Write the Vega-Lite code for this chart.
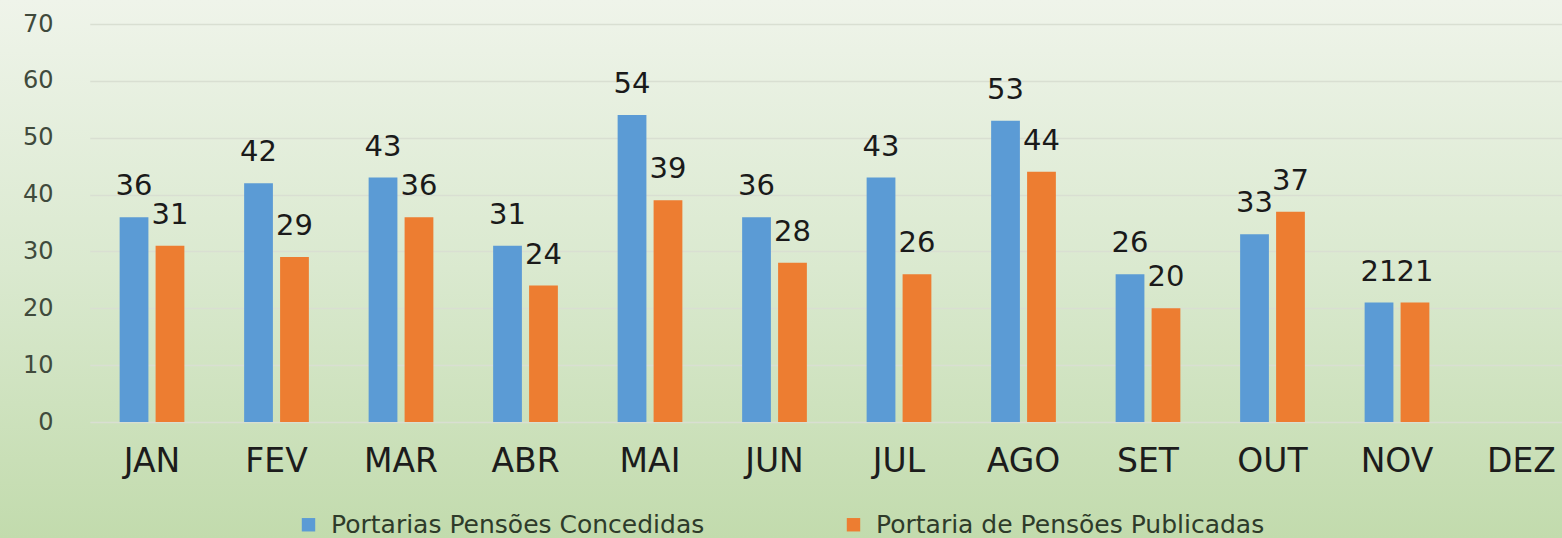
{
  "$schema": "https://vega.github.io/schema/vega-lite/v6.json",
  "width": 1562,
  "height": 538,
  "autosize": {"type": "none"},
  "padding": 0,
  "background": "#D9E8CE",
  "config": {
    "font": "DejaVu Sans",
    "view": {
      "stroke": null,
      "fill": {
        "gradient": "linear",
        "x1": 0, "y1": 0, "x2": 0, "y2": 1,
        "stops": [
          {"offset": 0, "color": "#EFF4EA"},
          {"offset": 0.5, "color": "#DAE9CF"},
          {"offset": 1, "color": "#C2DBAD"}
        ]
      }
    }
  },
  "data": {
    "values": [
      {"mes": "JAN", "serie": "Portarias Pensões Concedidas", "valor": 36},
      {"mes": "JAN", "serie": "Portaria de Pensões Publicadas", "valor": 31},
      {"mes": "FEV", "serie": "Portarias Pensões Concedidas", "valor": 42},
      {"mes": "FEV", "serie": "Portaria de Pensões Publicadas", "valor": 29},
      {"mes": "MAR", "serie": "Portarias Pensões Concedidas", "valor": 43},
      {"mes": "MAR", "serie": "Portaria de Pensões Publicadas", "valor": 36},
      {"mes": "ABR", "serie": "Portarias Pensões Concedidas", "valor": 31},
      {"mes": "ABR", "serie": "Portaria de Pensões Publicadas", "valor": 24},
      {"mes": "MAI", "serie": "Portarias Pensões Concedidas", "valor": 54},
      {"mes": "MAI", "serie": "Portaria de Pensões Publicadas", "valor": 39},
      {"mes": "JUN", "serie": "Portarias Pensões Concedidas", "valor": 36},
      {"mes": "JUN", "serie": "Portaria de Pensões Publicadas", "valor": 28},
      {"mes": "JUL", "serie": "Portarias Pensões Concedidas", "valor": 43},
      {"mes": "JUL", "serie": "Portaria de Pensões Publicadas", "valor": 26},
      {"mes": "AGO", "serie": "Portarias Pensões Concedidas", "valor": 53},
      {"mes": "AGO", "serie": "Portaria de Pensões Publicadas", "valor": 44},
      {"mes": "SET", "serie": "Portarias Pensões Concedidas", "valor": 26},
      {"mes": "SET", "serie": "Portaria de Pensões Publicadas", "valor": 20},
      {"mes": "OUT", "serie": "Portarias Pensões Concedidas", "valor": 33},
      {"mes": "OUT", "serie": "Portaria de Pensões Publicadas", "valor": 37},
      {"mes": "NOV", "serie": "Portarias Pensões Concedidas", "valor": 21},
      {"mes": "NOV", "serie": "Portaria de Pensões Publicadas", "valor": 21}
    ]
  },
  "layer": [
    {
      "mark": {"type": "bar"},
      "encoding": {
        "x": {
          "field": "mes",
          "type": "nominal",
          "scale": {
            "domain": ["JAN", "FEV", "MAR", "ABR", "MAI", "JUN", "JUL", "AGO", "SET", "OUT", "NOV", "DEZ"],
            "range": [89.75, 1583.75],
            "paddingInner": 0.48,
            "paddingOuter": 0.24
          },
          "axis": {
            "title": null,
            "orient": "bottom",
            "offset": -116,
            "domain": false,
            "ticks": false,
            "grid": false,
            "labelAngle": 0,
            "labelFontSize": 33,
            "labelColor": "#1C1C1C",
            "labelPadding": 23
          }
        },
        "xOffset": {
          "field": "serie",
          "type": "nominal",
          "scale": {
            "domain": ["Portarias Pensões Concedidas", "Portaria de Pensões Publicadas"],
            "paddingInner": 0.2,
            "paddingOuter": 0
          }
        },
        "y": {
          "field": "valor",
          "type": "quantitative",
          "scale": {"domain": [0, 70], "range": [422, 24], "nice": false},
          "axis": {
            "title": null,
            "values": [0, 10, 20, 30, 40, 50, 60, 70],
            "offset": -85,
            "domain": false,
            "ticks": false,
            "labelPadding": 32,
            "labelFontSize": 24,
            "labelColor": "#404A3C",
            "grid": true,
            "gridColor": "#D9DFD2",
            "gridWidth": 1.5
          }
        },
        "color": {
          "field": "serie",
          "type": "nominal",
          "scale": {
            "domain": ["Portarias Pensões Concedidas", "Portaria de Pensões Publicadas"],
            "range": ["#5B9BD5", "#ED7D31"]
          },
          "legend": {
            "orient": "none",
            "legendX": 296,
            "legendY": 512,
            "direction": "horizontal",
            "title": null,
            "symbolType": "square",
            "symbolSize": 180,
            "symbolStrokeWidth": 0,
            "labelFontSize": 25,
            "labelLimit": 0,
            "labelColor": "#2E3B2A",
            "labelOffset": 10,
            "columnPadding": 136
          }
        }
      }
    },
    {
      "mark": {"type": "text", "fontSize": 29, "baseline": "middle", "dy": -31, "color": "#1A1A1A"},
      "encoding": {
        "x": {"field": "mes", "type": "nominal"},
        "xOffset": {"field": "serie", "type": "nominal"},
        "y": {"field": "valor", "type": "quantitative"},
        "text": {"field": "valor", "type": "quantitative"}
      }
    }
  ]
}
